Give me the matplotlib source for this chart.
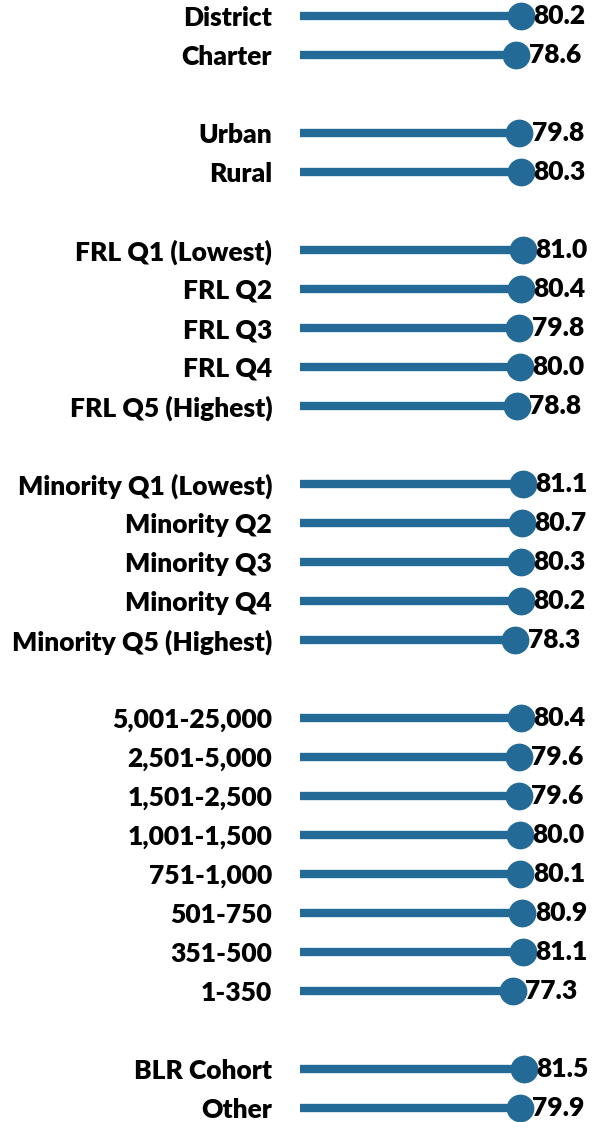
import matplotlib
matplotlib.use("Agg")
import matplotlib.pyplot as plt

# grupos de categorias (None = espacio vacio entre grupos)
etiquetas = ["District", "Charter", None,
             "Urban", "Rural", None,
             "FRL Q1 (Lowest)", "FRL Q2", "FRL Q3", "FRL Q4", "FRL Q5 (Highest)", None,
             "Minority Q1 (Lowest)", "Minority Q2", "Minority Q3", "Minority Q4",
             "Minority Q5 (Highest)", None,
             "5,001-25,000", "2,501-5,000", "1,501-2,500", "1,001-1,500",
             "751-1,000", "501-750", "351-500", "1-350", None,
             "BLR Cohort", "Other"]
valores = [80.2, 78.6, None,
           79.8, 80.3, None,
           81.0, 80.4, 79.8, 80.0, 78.8, None,
           81.1, 80.7, 80.3, 80.2, 78.3, None,
           80.4, 79.6, 79.6, 80.0, 80.1, 80.9, 81.1, 77.3, None,
           81.5, 79.9]

color = "#236a96"
plt.rcParams["font.family"] = ["Lato", "DejaVu Sans"]

fig = plt.figure(figsize=(5.92, 11.22), dpi=100)
ax = fig.add_axes([300 / 592, 0, 1 - 300 / 592, 1])

pos = [i for i, v in enumerate(valores) if v is not None]
vals = [valores[i] for i in pos]
labs = [etiquetas[i] for i in pos]

ax.hlines(pos, 0, vals, color=color, linewidth=6)
ax.scatter(vals, pos, s=400, color=color, zorder=3, linewidths=0)
for p, v in zip(pos, vals):
    ax.annotate(f"{v:.1f}", (v, p), xytext=(9, 0), textcoords="offset points",
                ha="left", va="center", fontsize=19, fontweight="heavy")

ax.set_xlim(0, 292 / 2.75)
ax.set_ylim((1122 - 16) / 39, -16 / 39)
ax.set_yticks(pos, labels=labs, fontsize=19, fontweight="heavy")
ax.tick_params(axis="y", length=0, pad=20)
ax.set_xticks([])
for s in ax.spines.values():
    s.set_visible(False)

fig.savefig("out.png", dpi=100)
